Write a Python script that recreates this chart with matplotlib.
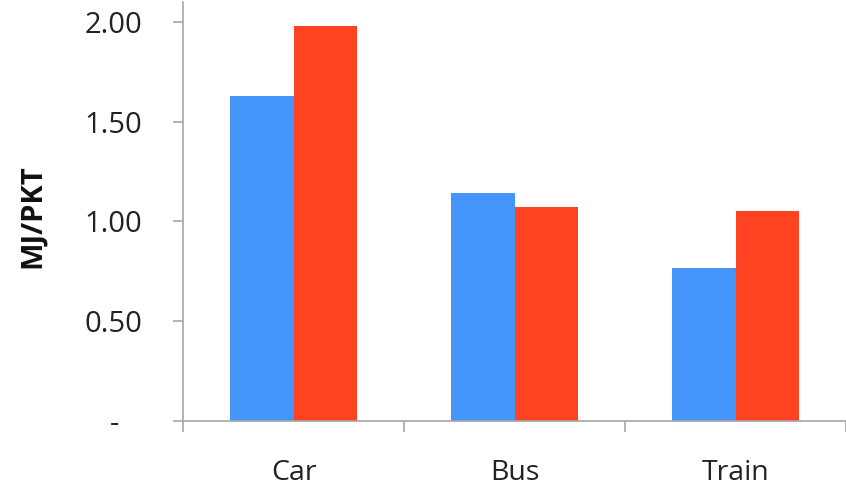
import matplotlib
matplotlib.use("Agg")
import matplotlib.pyplot as plt
import numpy as np

# energy intensity per passenger-km, two series per mode
modes = ["Car", "Bus", "Train"]
series_a = [1.63, 1.145, 0.768]
series_b = [1.98, 1.075, 1.054]
ytick_vals = [0, 0.5, 1.0, 1.5, 2.0]
ytick_text = ["-   ", "0.50", "1.00", "1.50", "2.00"]

plt.rcParams["font.family"] = ["Open Sans", "DejaVu Sans"]
axis_grey = "#a6a6a6"

fig = plt.figure(figsize=(8.46, 4.91), dpi=100)
ax = fig.add_axes([183 / 846, 70 / 491, 663 / 846, 419 / 491])

x = np.arange(len(modes))
w = 0.287
ax.bar(x - w / 2, series_a, width=w, color="#4495fa")
ax.bar(x + w / 2, series_b, width=w, color="#ff4220")

ax.set_xlim(-0.5, len(modes) - 0.5)
ax.set_ylim(0, 2.10)

ax.set_yticks(ytick_vals)
ax.set_yticklabels(ytick_text)
ax.set_xticks(x)
ax.set_xticklabels(modes)
ax.set_xticks(np.arange(len(modes) + 1) - 0.5, minor=True)

ax.tick_params(axis="y", direction="out", length=7.5, width=1.2,
               color=axis_grey, labelsize=21, pad=22, labelcolor="#222222")
ax.tick_params(axis="x", which="major", length=0, labelsize=20.5, pad=27,
               labelcolor="#222222")
ax.tick_params(axis="x", which="minor", direction="out", length=8,
               width=1.2, color=axis_grey)

for side in ("top", "right"):
    ax.spines[side].set_visible(False)
for side in ("left", "bottom"):
    ax.spines[side].set_color(axis_grey)
    ax.spines[side].set_linewidth(1.2)

ax.set_ylabel("MJ/PKT", fontsize=21, fontweight="bold", color="#111111")
ax.yaxis.set_label_coords(-0.205, 0.49)

fig.savefig("out.png", dpi=100)
